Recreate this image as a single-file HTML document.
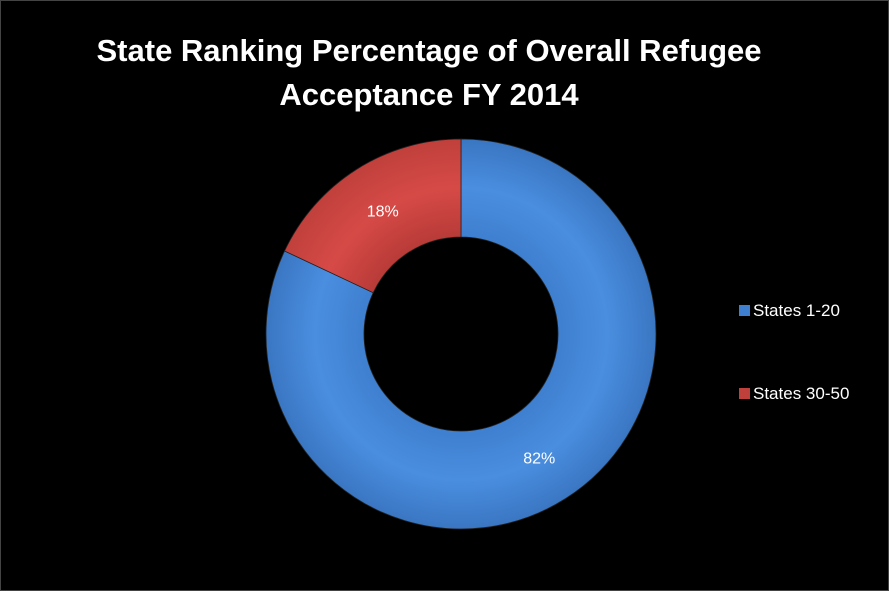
<!DOCTYPE html>
<html><head><meta charset="utf-8">
<style>
html,body{margin:0;padding:0;background:#000;}
#wrap{position:relative;width:889px;height:591px;background:#000;overflow:hidden;box-sizing:border-box;border:1px solid #444;}
#title{position:absolute;left:0;top:28px;width:856px;text-align:center;color:#fff;font:bold 31px/44px "Liberation Sans",sans-serif;}
.leg{position:absolute;left:738px;color:#fff;font:17px "Liberation Sans",sans-serif;}
.sw{display:inline-block;width:11px;height:11px;margin-right:3px;vertical-align:0px;}
</style></head>
<body>
<div id="wrap">
<div id="title">State Ranking Percentage of Overall Refugee<br>Acceptance FY 2014</div>
<svg id="svg" width="889" height="591" style="position:absolute;left:0;top:0">
<defs>
<radialGradient id="gb" cx="460" cy="333" r="195" gradientUnits="userSpaceOnUse"><stop offset="0.5" stop-color="#3f7fcf"/><stop offset="0.75" stop-color="#4a8ee0"/><stop offset="1" stop-color="#3a76c2"/></radialGradient>
<radialGradient id="gr" cx="460" cy="333" r="195" gradientUnits="userSpaceOnUse"><stop offset="0.5" stop-color="#b83b38"/><stop offset="0.75" stop-color="#d64a46"/><stop offset="1" stop-color="#c0403c"/></radialGradient>
</defs>
</svg>
<div class="leg" style="top:300px"><span class="sw" style="background:#3f7fcf"></span>States 1-20</div>
<div class="leg" style="top:383px"><span class="sw" style="background:#c0403c"></span>States 30-50</div>
</div>
<script>
const categories = ["States 1-20", "States 30-50"];
const values = [82, 18];
const labels = ["82%", "18%"];
const fills = ["url(#gb)", "url(#gr)"];
const svg = document.getElementById('svg');
const cx = 460, cy = 333, R = 195, r = 97;
const total = values.reduce((a,b)=>a+b,0);
function pt(a, rad){ return [cx + rad*Math.sin(a), cy - rad*Math.cos(a)]; }
let start = 0;
values.forEach((v,i)=>{
  const sweep = v/total*2*Math.PI;
  const a0 = start, a1 = start + sweep;
  const large = sweep > Math.PI ? 1 : 0;
  const [x0,y0]=pt(a0,R),[x1,y1]=pt(a1,R),[x2,y2]=pt(a1,r),[x3,y3]=pt(a0,r);
  const p = document.createElementNS('http://www.w3.org/2000/svg','path');
  p.setAttribute('d',`M${x0},${y0} A${R},${R} 0 ${large} 1 ${x1},${y1} L${x2},${y2} A${r},${r} 0 ${large} 0 ${x3},${y3} Z`);
  p.setAttribute('fill',fills[i]);
  p.setAttribute('stroke','#222');
  p.setAttribute('stroke-width','0.8');
  
  
  svg.appendChild(p);
  const mid = (a0+a1)/2;
  const [tx,ty] = pt(mid,(R+r)/2);
  const t = document.createElementNS('http://www.w3.org/2000/svg','text');
  t.setAttribute('x',tx); t.setAttribute('y',ty+6);
  t.setAttribute('text-anchor','middle');
  t.setAttribute('fill','#fff');
  t.setAttribute('font-family','Liberation Sans, sans-serif');
  t.setAttribute('font-size','16');
  
  
  t.textContent = labels[i];
  svg.appendChild(t);
  start = a1;
});
</script>
</body></html>
